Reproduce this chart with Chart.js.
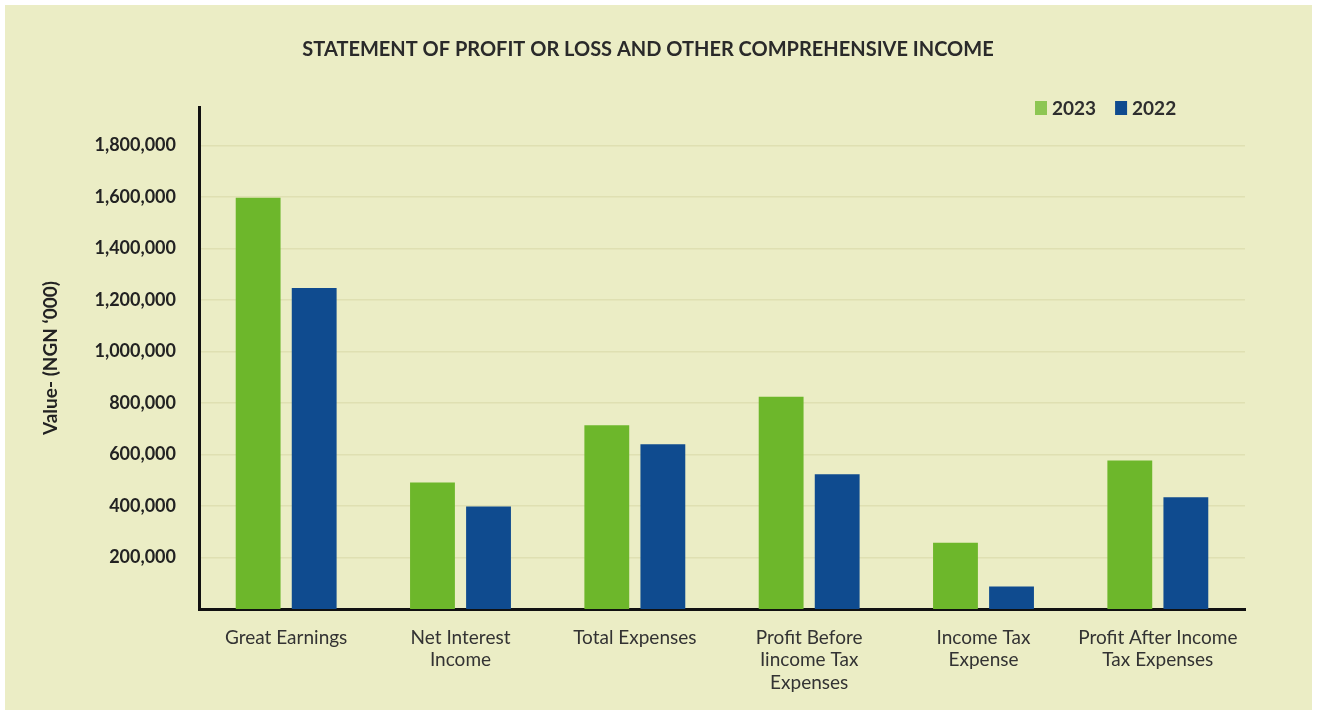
<!DOCTYPE html>
<html>
<head>
<meta charset="utf-8">
<script src="https://cdn.jsdelivr.net/npm/chart.js@4.4.1/dist/chart.umd.min.js"></script>
<style>
  html, body { margin: 0; padding: 0; background: #ffffff; }
  #panel { position: absolute; left: 5px; top: 5px; width: 1307px; height: 705px; background: #ebedc5; }
  canvas { display: block; }
</style>
</head>
<body>
<div id="panel"><canvas id="c"></canvas></div>
<script>
const chartTitle = 'STATEMENT OF PROFIT OR LOSS AND OTHER COMPREHENSIVE INCOME';
const categories = [
  'Great Earnings',
  ['Net Interest', 'Income'],
  'Total Expenses',
  ['Profit Before', 'Iincome Tax', 'Expenses'],
  ['Income Tax', 'Expense'],
  ['Profit After Income', 'Tax Expenses']
];
const seriesNames = ['2023', '2022'];
const values2023 = [1597000, 491000, 714000, 824000, 257000, 577000];
const values2022 = [1247000, 398000, 640000, 523000, 87000, 434000];
const yTickValues = [200000, 400000, 600000, 800000, 1000000, 1200000, 1400000, 1600000, 1800000];
const yAxisTitle = 'Value- (NGN \u2018000)';

const barColors = ['#6db72b', '#0f4b8f'];
const legendColors = ['#8dc653', '#0f4b8f'];

const headerPlugin = {
  id: 'header',
  afterDraw(chart) {
    const ctx = chart.ctx;
    ctx.save();
    // title
    ctx.font = '700 20px Lato';
    ctx.textBaseline = 'middle';
    ctx.textAlign = 'center';
    ctx.fillStyle = '#2a2a2a';
    ctx.fillText(chartTitle, 643, 45);
    // legend
    ctx.font = '700 19px Lato';
    ctx.textAlign = 'left';
    let x = 1030;
    const y = 103;
    chart.data.datasets.forEach((ds, i) => {
      ctx.fillStyle = legendColors[i];
      ctx.fillRect(x, y - 7, 12, 14);
      ctx.fillStyle = '#2e2e2e';
      ctx.fillText(ds.label, x + 17, y + 1);
      x += 17 + ctx.measureText(ds.label).width + 19;
    });
    ctx.restore();
  }
};

new Chart(document.getElementById('c'), {
  type: 'bar',
  data: {
    labels: categories,
    datasets: [
      { label: seriesNames[0], data: values2023, backgroundColor: barColors[0] },
      { label: seriesNames[1], data: values2022, backgroundColor: barColors[1] }
    ]
  },
  options: {
    responsive: true,
    maintainAspectRatio: false,
    animation: false,
    categoryPercentage: 0.643,
    barPercentage: 0.80,
    layout: { padding: { left: 0, right: 67, top: 102, bottom: 0 } },
    plugins: {
      legend: { display: false },
      tooltip: { enabled: false },
      title: { display: false }
    },
    scales: {
      x: {
        grid: { display: false, drawTicks: false },
        border: { display: true, color: '#111111', width: 3 },
        ticks: {
          color: '#333333',
          font: { family: 'Lato', size: 19, weight: '400', lineHeight: 1.2 },
          padding: 17,
          maxRotation: 0,
          autoSkip: false
        },
        afterFit: (s) => { s.height = 101; }
      },
      y: {
        min: 0,
        max: 1950000,
        afterBuildTicks: (s) => { s.ticks = yTickValues.map(v => ({ value: v })); },
        ticks: {
          color: '#222222',
          font: { family: 'Lato', size: 18, weight: '700' },
          padding: 23,
          callback: (v) => Number(v).toLocaleString('en-US')
        },
        grid: { color: '#dfe0b2', lineWidth: 1.5, drawTicks: false },
        border: { display: true, color: '#111111', width: 3 },
        title: {
          display: true,
          text: yAxisTitle,
          color: '#222222',
          font: { family: 'Lato', size: 19, weight: '700' },
          padding: { top: 34, bottom: 0 }
        },
        afterFit: (s) => { s.width = 194; }
      }
    }
  },
  plugins: [headerPlugin]
});
</script>
</body>
</html>
